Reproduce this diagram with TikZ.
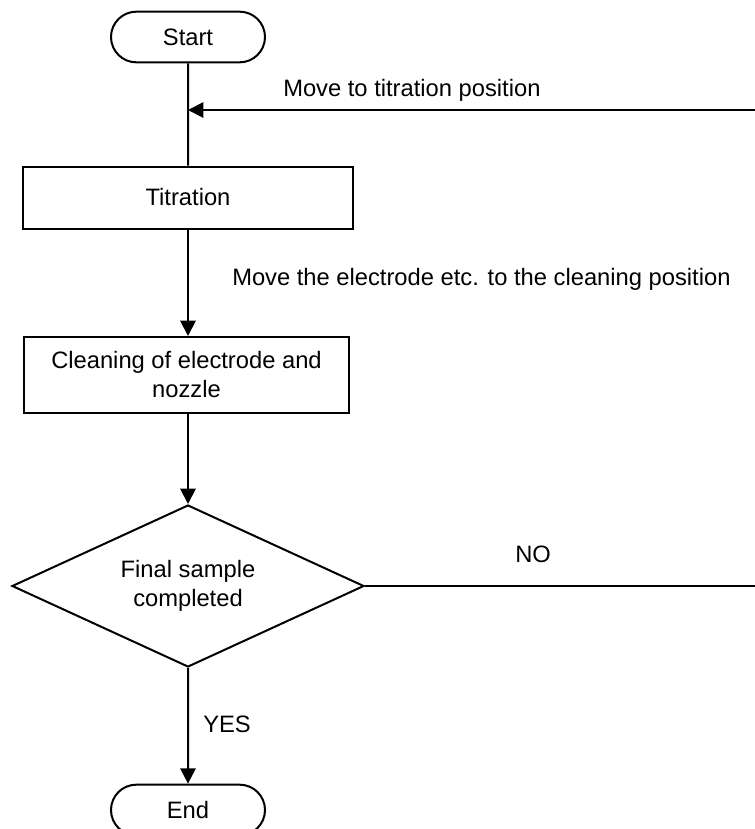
\documentclass[tikz,border=0pt]{standalone}
\usepackage{fontspec}
\setmainfont{Liberation Sans}
\usetikzlibrary{
  arrows.meta,
  shapes.misc,
  shapes.geometric
}
\colorlet{flowLine}{black}

\begin{document}
\begin{tikzpicture}[
  x=0.75pt,
  y=-0.75pt,
  every node/.style={
    font=\fontsize{17.8}{21.75}\selectfont
  },
  every box/.style={
    draw=flowLine,
    line width=1.5pt,
    fill=white,
    align=center,
    inner sep=0pt
  },
  terminal/.style={
    every box/.try,
    rounded rectangle,
    minimum width=115.5pt,
    minimum height=38pt
  },
  process/.style={
    every box/.try,
    rectangle,
    minimum height=46.5pt
  },
  decision/.style={
    every box/.try,
    diamond,
    aspect=2.17,
    minimum width=264pt,
    minimum height=121.5pt
  },
  flow/.style={
    draw=flowLine,
    line width=1.5pt
  },
  flow arrow/.style={
    flow,
    -{Triangle[length=11.5pt,width=11.5pt]}
  },
  flow label/.style={
    anchor=base west,
    inner sep=0pt
  }
]
\useasboundingbox (0,0) rectangle (755,829);
\node[terminal] (start) at (188,37) {Start};
\node[process,minimum width=248pt] (titration) at (188,197.5) {Titration};
\node[process,minimum width=244pt,minimum height=57pt] (cleaning) at (186.5,375)
  {Cleaning of electrode and\\nozzle};
\node[decision] (final) at (188,586) {Final sample\\completed};
\node[terminal] (end) at (188,810) {End};
\coordinate (backIn) at (755,110);
\coordinate (noOut) at (755,586);
\draw[flow] (start) -- (titration);
\draw[flow arrow] (backIn) -- (backIn -| start);
\draw[flow arrow] (titration) -- (titration.south |- cleaning.north);
\draw[flow arrow] (cleaning.south -| final) -- (final);
\draw[flow arrow] (final) -- (end);
\draw[flow] (final) -- (noOut);
\node[flow label] (backLabel) at (283,96) {Move to titration position};
\node[flow label] (moveLabel) at (232,285) {Move the electrode etc. to the cleaning position};
\node[flow label] (noLabel) at (515,562) {NO};
\node[flow label] (yesLabel) at (203,732) {YES};
\end{tikzpicture}
\end{document}
